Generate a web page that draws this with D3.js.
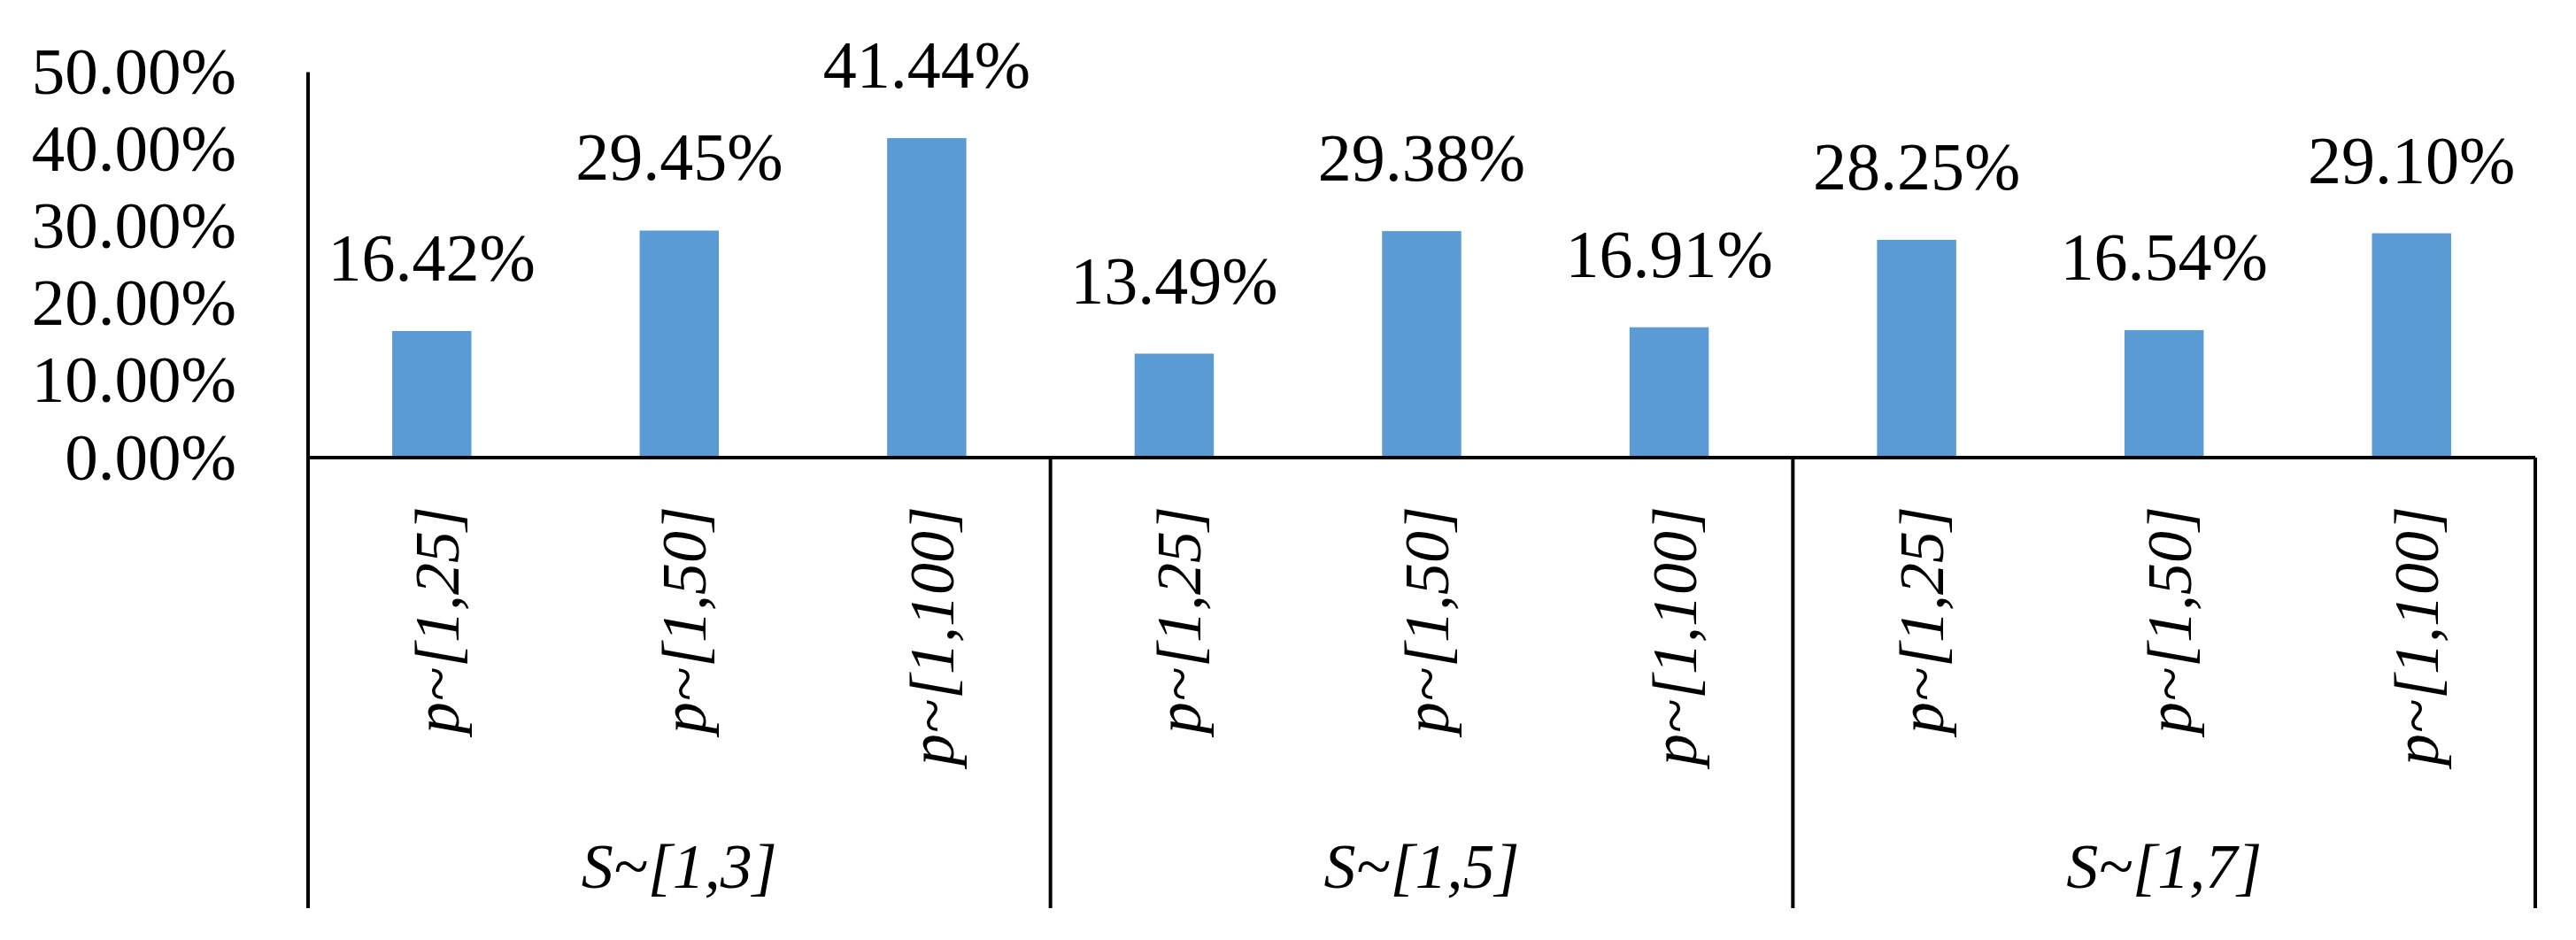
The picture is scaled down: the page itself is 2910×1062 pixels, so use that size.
<!DOCTYPE html>
<html>
<head>
<meta charset="utf-8">
<script src="https://cdn.jsdelivr.net/npm/d3@7"></script>
<style>
	body { margin: 0; background: #fff; }
	svg { display: block; }
	text { font-family: "Liberation Serif", "Times New Roman", serif; fill: #000; }
</style>
</head>
<body>
<svg id="chart"></svg>
<script>
var groups = ["S~[1,3]", "S~[1,5]", "S~[1,7]"];
var subcats = ["p~[1,25]", "p~[1,50]", "p~[1,100]"];
// one row per group, one value per subcategory
var values = [
	[0.1642, 0.2945, 0.4144],
	[0.1349, 0.2938, 0.1691],
	[0.2825, 0.1654, 0.2910]
];
var yTicks = [0, 0.1, 0.2, 0.3, 0.4, 0.5];

var width = 2910;
var height = 1062;
var left = 348, right = 2864;
var baseY = 517, topY = 81.5, bottomY = 1026;

var svg = d3.select("#chart")
	.attr("width", width)
	.attr("height", height);

var x0 = d3.scaleBand()
	.domain(groups)
	.range([left, right]);

var x1 = d3.scaleBand()
	.domain(subcats)
	.range([0, x0.bandwidth()])
	.paddingInner(0.68)
	.paddingOuter(0.34);

var y = d3.scaleLinear()
	.domain([0, 0.5])
	.range([baseY, topY]);

// Y Axis
var yAxis = d3.axisLeft(y)
	.tickValues(yTicks)
	.tickSize(0)
	.tickPadding(81)
	.tickFormat(d3.format(".2%"));

var gy = svg.append("g")
	.attr("transform", "translate(" + left + ",0)")
	.call(yAxis);
gy.select(".domain").remove();
gy.selectAll("text")
	.attr("font-family", null)
	.style("font-size", "75px");

// Bars and labels
var rows = [];
groups.forEach(function(g, i) {
	subcats.forEach(function(s, j) {
		rows.push({ group: g, sub: s, value: values[i][j] });
	});
});

svg.selectAll("rect.bar")
	.data(rows)
	.enter()
	.append("rect")
	.attr("class", "bar")
	.attr("x", function(d) { return x0(d.group) + x1(d.sub); })
	.attr("y", function(d) { return y(d.value); })
	.attr("width", x1.bandwidth())
	.attr("height", function(d) { return baseY - y(d.value); })
	.attr("fill", "#5B9BD5");

svg.selectAll("text.val")
	.data(rows)
	.enter()
	.append("text")
	.attr("class", "val")
	.attr("x", function(d) { return x0(d.group) + x1(d.sub) + x1.bandwidth() / 2; })
	.attr("y", function(d) { return y(d.value) - 57; })
	.attr("text-anchor", "middle")
	.style("font-size", "76px")
	.text(function(d) { return d3.format(".2%")(d.value); });

// Axis lines
svg.append("line")
	.attr("x1", left).attr("x2", left)
	.attr("y1", y(0.5)).attr("y2", bottomY)
	.attr("stroke", "#000").attr("stroke-width", 4);

svg.append("line")
	.attr("x1", left).attr("x2", right)
	.attr("y1", baseY).attr("y2", baseY)
	.attr("stroke", "#000").attr("stroke-width", 4);

svg.selectAll("line.sep")
	.data(groups)
	.enter()
	.append("line")
	.attr("class", "sep")
	.attr("x1", function(d) { return x0(d) + x0.bandwidth(); })
	.attr("x2", function(d) { return x0(d) + x0.bandwidth(); })
	.attr("y1", baseY).attr("y2", bottomY)
	.attr("stroke", "#000").attr("stroke-width", 4);

// Category labels (rotated)
svg.selectAll("text.cat")
	.data(rows)
	.enter()
	.append("text")
	.attr("class", "cat")
	.attr("transform", function(d) {
		var cx = x0(d.group) + x1(d.sub) + x1.bandwidth() / 2 + 30;
		return "translate(" + cx + ",572)rotate(-90)";
	})
	.attr("text-anchor", "end")
	.style("font-size", "72px")
	.style("font-style", "italic")
	.text(function(d) { return d.sub; });

// Group labels
svg.selectAll("text.grp")
	.data(groups)
	.enter()
	.append("text")
	.attr("class", "grp")
	.attr("x", function(d) { return x0(d) + x0.bandwidth() / 2; })
	.attr("y", 1003)
	.attr("text-anchor", "middle")
	.style("font-size", "72px")
	.style("font-style", "italic")
	.text(function(d) { return d; });
</script>
</body>
</html>
